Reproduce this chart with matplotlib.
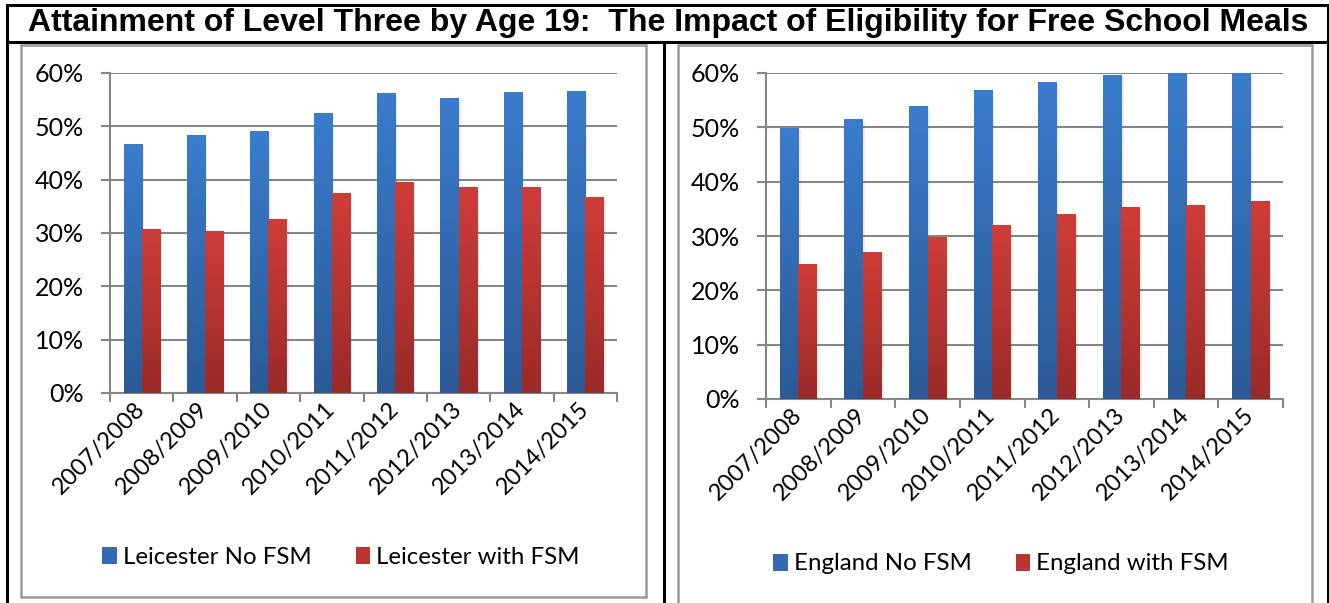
import numpy as np
import matplotlib
matplotlib.use("Agg")
import matplotlib.pyplot as plt
from matplotlib.lines import Line2D
from matplotlib.patches import Rectangle, Patch
from matplotlib.colors import LinearSegmentedColormap
from matplotlib.ticker import PercentFormatter
from matplotlib.transforms import ScaledTranslation

# ---------------- data ----------------
years = ["2007/2008", "2008/2009", "2009/2010", "2010/2011",
         "2011/2012", "2012/2013", "2013/2014", "2014/2015"]
leicester_no_fsm = [46.6, 48.3, 49.1, 52.4, 56.1, 55.3, 56.4, 56.6]
leicester_fsm = [30.7, 30.3, 32.5, 37.4, 39.5, 38.6, 38.6, 36.7]
england_no_fsm = [49.7, 51.5, 53.9, 56.7, 58.3, 59.6, 60.5, 60.8]
england_fsm = [24.7, 26.9, 29.8, 32.0, 34.0, 35.3, 35.7, 36.4]
yticks = [0, 10, 20, 30, 40, 50, 60]
title = "Attainment of Level Three by Age 19:  The Impact of Eligibility for Free School Meals"

W, H = 1329, 603
fig = plt.figure(figsize=(W / 100, H / 100), dpi=100)
fig.patch.set_facecolor("white")

def fx(x):
    return x / W

def fy(y):
    return 1 - y / H

BLUE_TOP, BLUE_BOT = "#3A7CCD", "#2B5A96"
RED_TOP, RED_BOT = "#CF3D39", "#9A2A29"
GRID = "#878787"
FONT = "Lato"
YMAX = 60

cm_blue = LinearSegmentedColormap.from_list("b", [BLUE_BOT, BLUE_TOP])
cm_red = LinearSegmentedColormap.from_list("r", [RED_BOT, RED_TOP])


def grad_bars(ax, xs, vals, width, cmap):
    bars = ax.bar(xs, vals, width=width, color="none", edgecolor="none", zorder=3)
    grad = np.linspace(0, 1, 256).reshape(-1, 1)
    for b in bars:
        x0, w, h = b.get_x(), b.get_width(), b.get_height()
        top = min(h, YMAX)
        ax.add_patch(Rectangle((x0 + w, 0), w * 0.12, top * 0.995, facecolor="#000000",
                               alpha=0.07, edgecolor="none", zorder=2.5))
        ax.imshow(grad, extent=[x0, x0 + w, 0, top], origin="lower", cmap=cmap,
                  aspect="auto", zorder=3, interpolation="bilinear")
    return bars


def make_panel(rect, a_vals, b_vals):
    ax = fig.add_axes(rect)
    n = len(years)
    x = np.arange(n)
    w = 0.286
    grad_bars(ax, x - w / 2, a_vals, w, cm_blue)
    grad_bars(ax, x + w / 2, b_vals, w, cm_red)
    ax.set_xlim(-0.5, n - 0.5)
    ax.set_ylim(0, YMAX)
    ax.set_yticks(yticks)
    ax.yaxis.set_major_formatter(PercentFormatter(decimals=0))
    ax.set_xticks(np.arange(-0.5, n, 1.0))
    ax.set_xticklabels([])
    ax.set_xticks(x, minor=True)
    ax.set_xticklabels(years, minor=True, rotation=45, ha="right", va="center",
                       rotation_mode="anchor", fontsize=17, family=FONT)
    off = ScaledTranslation(8 / 100, 0, fig.dpi_scale_trans)
    for t in ax.get_xticklabels(minor=True):
        t.set_transform(t.get_transform() + off)
    ax.tick_params(axis="x", which="minor", length=0, pad=9)
    ax.tick_params(axis="x", which="major", length=6.5, width=1.5, color=GRID, direction="out")
    ax.tick_params(axis="y", length=6.5, width=1.5, color=GRID, direction="out", pad=12,
                   labelsize=18)
    for t in ax.get_yticklabels():
        t.set_family(FONT)
    ax.grid(axis="y", color=GRID, linewidth=1.5, zorder=0)
    ax.set_axisbelow(True)
    for s in ["top", "right"]:
        ax.spines[s].set_visible(False)
    for s in ["left", "bottom"]:
        ax.spines[s].set_color(GRID)
        ax.spines[s].set_linewidth(1.5)
    return ax


axL = make_panel([fx(110), fy(393), fx(617 - 110), (393 - 73) / H],
                 leicester_no_fsm, leicester_fsm)
axR = make_panel([fx(766), fy(399), fx(1283 - 766), (399 - 73) / H],
                 england_no_fsm, england_fsm)

# legends
def legend(cx, cy, names):
    handles = [Patch(facecolor="#3469B3", edgecolor="none"),
               Patch(facecolor="#BA3431", edgecolor="none")]
    fig.legend(handles, names, loc="center", bbox_to_anchor=(fx(cx), fy(cy)),
               ncol=2, frameon=False, prop={"family": FONT, "size": 17.3},
               handlelength=0.6, handleheight=0.7, handletextpad=0.25,
               columnspacing=1.85)

legend(341, 557, ["Leicester No FSM", "Leicester with FSM"])
legend(1001, 564, ["England No FSM", "England with FSM"])

# chart frames (gray)
fig.add_artist(Rectangle((fx(21), fy(597)), fx(646 - 21), (597 - 45) / H,
                         transform=fig.transFigure, facecolor="none",
                         edgecolor="#999999", linewidth=1.8, zorder=0))
fig.add_artist(Rectangle((fx(678), fy(620)), fx(1312 - 678), (620 - 45) / H,
                         transform=fig.transFigure, facecolor="none",
                         edgecolor="#999999", linewidth=1.8, zorder=0, clip_on=False))

# black table lines
def bline(x0, y0, x1, y1, lw=2.2):
    fig.add_artist(Line2D([fx(x0), fx(x1)], [fy(y0), fy(y1)], transform=fig.transFigure,
                          color="black", linewidth=lw, solid_capstyle="butt"))

bline(6.5, 3.5, 6.5, 603)
bline(1327.5, 3.5, 1327.5, 603)
bline(5.5, 4.5, 1328.5, 4.5)
bline(5.5, 42, 1328.5, 42)
bline(664, 42, 664, 603)

fig.text(fx(668), fy(23), title, ha="center", va="center", fontsize=23,
         fontweight="bold", family="Liberation Sans")

fig.savefig("out.png", dpi=100, facecolor="white")
